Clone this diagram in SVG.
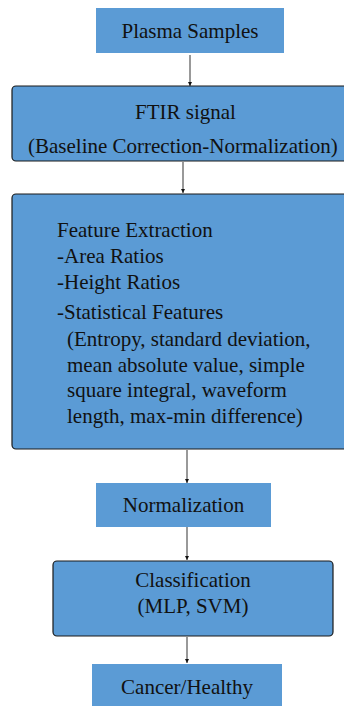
<svg xmlns="http://www.w3.org/2000/svg" width="344" height="707" viewBox="0 0 344 707">
  <style>
    .box { fill: #5B9BD5; }
    .rbox { fill: #5B9BD5; stroke: #1a1a1a; stroke-width: 1.2; }
    text { font-size: 21px; fill: #111; }
    .mid { text-anchor: middle; }
    .wire { stroke: #555; stroke-width: 1.2; fill: none; marker-end: url(#tip); }
  </style>
  <defs>
    <marker id="tip" viewBox="0 0 6 6" refX="6" refY="3" markerWidth="4" markerHeight="4" markerUnits="userSpaceOnUse" orient="auto">
      <path d="M0,0 L6,3 L0,6 Z" fill="#111"/>
    </marker>
  </defs>

  <g id="connectors">
    <line class="wire" x1="190" y1="55" x2="190" y2="86"/>
    <line class="wire" x1="183" y1="162" x2="183" y2="193"/>
    <line class="wire" x1="187" y1="450" x2="187" y2="483"/>
    <line class="wire" x1="187" y1="527" x2="187" y2="560"/>
    <line class="wire" x1="187" y1="637" x2="187" y2="663"/>
  </g>

  <g font-family="Liberation Serif, DejaVu Serif, serif">
  <g id="plasma-samples">
    <rect class="box" x="96" y="8" width="188" height="45"/>
    <text class="mid" x="190" y="38">Plasma Samples</text>
  </g>

  <g id="ftir-signal">
    <rect class="rbox" x="12" y="86" width="340" height="75" rx="4"/>
    <text class="mid" x="185.5" y="119">FTIR signal</text>
    <text x="28" y="153">(Baseline Correction-Normalization)</text>
  </g>

  <g id="feature-extraction">
    <rect class="rbox" x="12" y="194" width="340" height="255" rx="4"/>
    <text x="57" y="237">Feature Extraction</text>
    <text x="57" y="263">-Area Ratios</text>
    <text x="57" y="289">-Height Ratios</text>
    <text x="57" y="319">-Statistical Features</text>
    <text x="67" y="346">(Entropy, standard deviation,</text>
    <text x="67" y="372">mean absolute value, simple</text>
    <text x="67" y="397">square integral, waveform</text>
    <text x="67" y="423">length, max-min difference)</text>
  </g>

  <g id="normalization">
    <rect class="box" x="96" y="483" width="175" height="44"/>
    <text class="mid" x="183.5" y="512">Normalization</text>
  </g>

  <g id="classification">
    <rect class="rbox" x="53" y="561" width="280" height="75" rx="4"/>
    <text class="mid" x="193" y="587">Classification</text>
    <text class="mid" x="193" y="613">(MLP, SVM)</text>
  </g>

  <g id="cancer-healthy">
    <rect class="box" x="92" y="664" width="190" height="42"/>
    <text class="mid" x="187" y="694">Cancer/Healthy</text>
  </g>
  </g>
</svg>
